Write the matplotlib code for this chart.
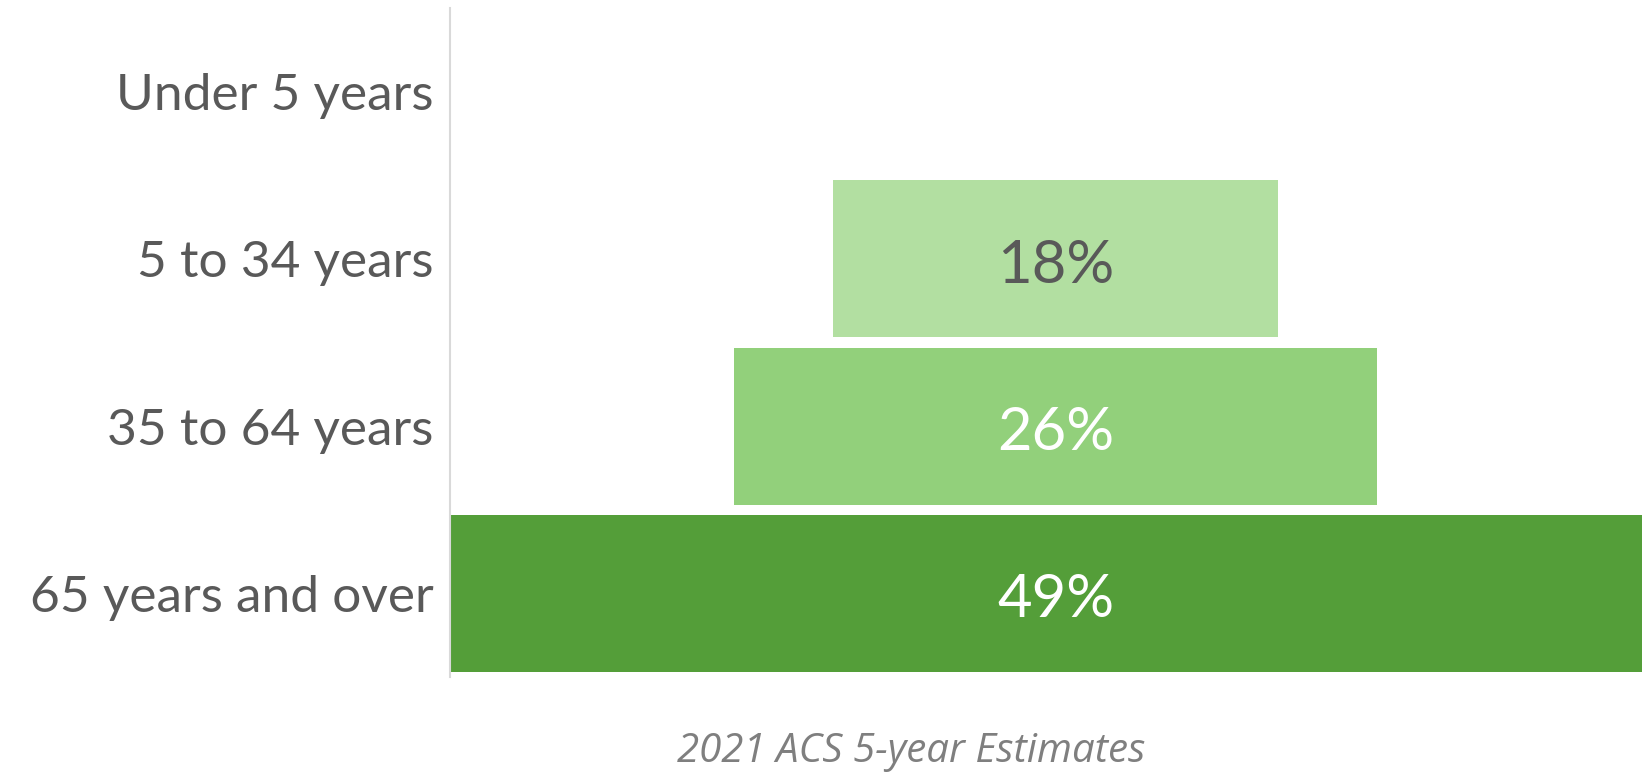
import matplotlib
matplotlib.use("Agg")
from matplotlib import pyplot as plt

# age groups, top to bottom
categories = ["Under 5 years", "5 to 34 years", "35 to 64 years", "65 years and over"]
values = [0, 18, 26, 49]
bar_colors = ["#ffffff", "#b2dfa1", "#92d07b", "#549e39"]
label_colors = ["#595959", "#595959", "#ffffff", "#ffffff"]
source_note = "2021 ACS 5-year Estimates"

fig = plt.figure(figsize=(16.42, 7.73), dpi=100)
ax = fig.add_axes([450 / 1642, 96 / 773, 1 - 450 / 1642, 669 / 773])

widest = max(values)
ypos = list(range(len(categories)))
offsets = [(widest - v) / 2 for v in values]

# funnel: each bar centred on the widest one
ax.barh(ypos, values, left=offsets, height=0.94, color=bar_colors,
        edgecolor="none")

for y, v, off, c in zip(ypos, values, offsets, label_colors):
    if v > 0:
        ax.text(off + v / 2, y + 0.04, f"{v}%", ha="center", va="center",
                fontsize=43, color=c, family="Lato")

ax.set_xlim(0, 48.2)
ax.set_ylim(len(categories) - 0.5, -0.5)
ax.set_yticks(ypos)
ax.set_yticklabels(categories, fontsize=37, color="#595959", family="Lato")
ax.tick_params(axis="y", length=0, pad=12)
ax.set_xticks([])

for side in ["top", "right", "bottom"]:
    ax.spines[side].set_visible(False)
ax.spines["left"].set_color("#d9d9d9")
ax.spines["left"].set_linewidth(1.5)

fig.text(911 / 1642, 1 - 752 / 773, source_note, ha="center", va="center",
         fontsize=29, style="italic", color="#7f7f7f", family="Open Sans")

fig.savefig("out.png", dpi=100)
